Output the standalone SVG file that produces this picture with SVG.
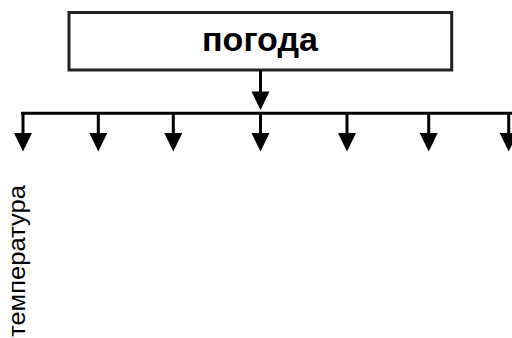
<svg xmlns="http://www.w3.org/2000/svg" xmlns:xlink="http://www.w3.org/1999/xlink" width="512" height="338" viewBox="0 0 512 338">
<style>
.box{fill:#fff;stroke:#222;stroke-width:3}
.ln{stroke:#000;stroke-width:3;fill:none}
.hd{fill:#000}
.t1{font-family:"Liberation Sans",Arial,sans-serif;font-weight:bold;font-size:34px;fill:#000}
.t2{font-family:"Liberation Sans",Arial,sans-serif;font-size:24px;fill:#000}
</style>
<defs>
<polygon id="head" class="hd" points="-9,0 9,0 0,18.5"/>
</defs>
<rect width="512" height="338" fill="#fff"/>
<g id="node-pogoda">
<rect class="box" x="69" y="12.5" width="382.7" height="57.5"/>
<text class="t1" x="260" y="50.5" text-anchor="middle">погода</text>
</g>
<g id="connectors">
<line class="ln" x1="260.5" y1="70" x2="260.5" y2="93"/>
<use xlink:href="#head" x="260.5" y="91.5"/>
<line class="ln" x1="21" y1="113.3" x2="512" y2="113.3"/>
<line class="ln" x1="23" y1="112" x2="23" y2="134"/>
<use xlink:href="#head" x="23" y="133"/>
<line class="ln" x1="98.3" y1="112" x2="98.3" y2="134"/>
<use xlink:href="#head" x="98.3" y="133"/>
<line class="ln" x1="173.3" y1="112" x2="173.3" y2="134"/>
<use xlink:href="#head" x="173.3" y="133"/>
<line class="ln" x1="260.5" y1="112" x2="260.5" y2="134"/>
<use xlink:href="#head" x="260.5" y="133"/>
<line class="ln" x1="347" y1="112" x2="347" y2="134"/>
<use xlink:href="#head" x="347" y="133"/>
<line class="ln" x1="428.7" y1="112" x2="428.7" y2="134"/>
<use xlink:href="#head" x="428.7" y="133"/>
<line class="ln" x1="508.7" y1="112" x2="508.7" y2="134"/>
<use xlink:href="#head" x="508.7" y="133"/>
</g>
<g id="node-temperatura">
<text class="t2" transform="translate(25,337) rotate(-90)" textLength="152" lengthAdjust="spacingAndGlyphs">температура</text>
</g>
</svg>
